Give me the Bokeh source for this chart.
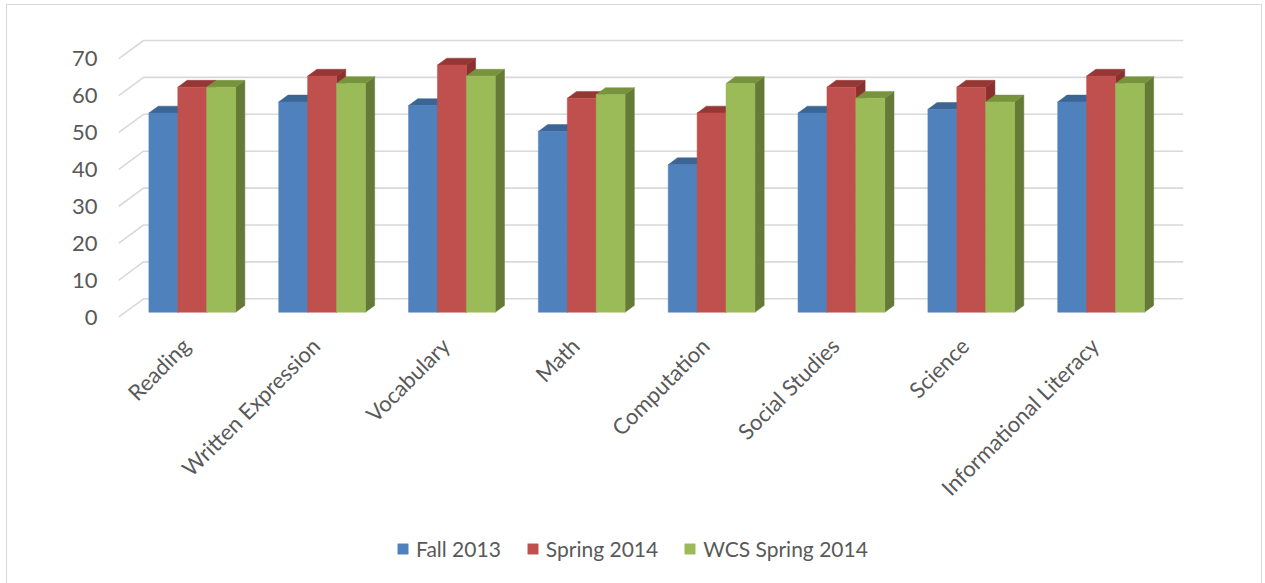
import math
from bokeh.plotting import figure
from bokeh.models import FixedTicker, Legend, LegendItem
from bokeh.core.properties import value
from bokeh.embed import file_html
from bokeh.resources import INLINE

# ---- data ----
categories = ["Reading", "Written Expression", "Vocabulary", "Math", "Computation",
              "Social Studies", "Science", "Informational Literacy"]
fall_2013 = [54, 57, 56, 49, 40, 54, 55, 57]
spring_2014 = [61, 64, 67, 58, 54, 61, 61, 64]
wcs_spring_2014 = [61, 62, 64, 59, 62, 58, 57, 62]
series_names = ["Fall 2013", "Spring 2014", "WCS Spring 2014"]
y_ticks = [0, 10, 20, 30, 40, 50, 60, 70]

# ---- styles / 3D geometry ----
front_colors = ["#4F81BD", "#C0504D", "#9BBB59"]
top_colors = ["#3B6594", "#943735", "#77933C"]
side_colors = ["#35577F", "#8A302E", "#667A38"]
DX = 0.1926   # x shift for full depth (category units)
DY = 4.99     # y shift for full depth (value units)
D_F = 0.27    # bar front depth
D_B = 0.64    # bar back depth
BW = 0.2226   # bar width
X0, X1 = -0.568, 7.635
Y0, Y1 = -70.0, 77.70
FONT = "Lato"
TXT = "#595959"

p = figure(width=1256, height=580, x_range=(X0, X1), y_range=(Y0, Y1),
           output_backend="svg", toolbar_location=None, x_axis_location=None,
           min_border_left=111, min_border_right=80, min_border_top=25,
           min_border_bottom=10)
p.background_fill_color = "white"
p.border_fill_color = "white"
p.outline_line_color = None
p.xgrid.visible = False
p.ygrid.visible = False
p.styles = {"margin-left": "6px", "margin-top": "4px", "border": "1px solid #d9d9d9"}

# 3D gridlines (front floor edge -> back wall -> across)
gx, gy = [], []
for v in y_ticks:
    gx.append([X0, X0 + DX, X1])
    gy.append([v, v + DY, v + DY])
p.multi_line(gx, gy, line_color="#d9d9d9", line_width=1.6)

ddx = (D_B - D_F) * DX
ddy = (D_B - D_F) * DY
legend_items = []
for k, vals in enumerate([fall_2013, spring_2014, wcs_spring_2014]):
    lefts, rights, tops, bottoms = [], [], [], []
    side_xs, side_ys, top_xs, top_ys = [], [], [], []
    for i, v in enumerate(vals):
        l = i + (k - 1.5) * BW
        r = l + BW
        b = D_F * DY
        t = v + D_F * DY
        lefts.append(l); rights.append(r); bottoms.append(b); tops.append(t)
        side_xs.append([r, r + ddx, r + ddx, r])
        side_ys.append([b, b + ddy, t + ddy, t])
        top_xs.append([l, r, r + ddx, l + ddx])
        top_ys.append([t, t, t + ddy, t + ddy])
    p.patches(side_xs, side_ys, fill_color=side_colors[k], line_color=side_colors[k], line_width=0.5)
    p.patches(top_xs, top_ys, fill_color=top_colors[k], line_color=top_colors[k], line_width=0.5)
    r_front = p.quad(left=lefts, right=rights, bottom=bottoms, top=tops,
                     fill_color=front_colors[k], line_color=front_colors[k], line_width=0.5)
    legend_items.append(LegendItem(label=series_names[k], renderers=[r_front]))

# category labels (rotated, anchored under each group)
p.text(x=list(range(len(categories))), y=[0] * len(categories), text=categories,
       angle=math.pi / 4, text_align="right", text_baseline="top",
       x_offset=-16, y_offset=15, text_font=value(FONT), text_font_size="22px",
       text_color=TXT)

# y axis
p.yaxis.ticker = FixedTicker(ticks=y_ticks)
p.yaxis.axis_line_color = None
p.yaxis.major_tick_line_color = None
p.yaxis.minor_tick_line_color = None
p.yaxis.major_tick_out = 0
p.yaxis.major_tick_in = 0
p.yaxis.major_label_standoff = 21
p.yaxis.major_label_text_font = FONT
p.yaxis.major_label_text_font_size = "22px"
p.yaxis.major_label_text_color = TXT

legend = Legend(items=legend_items, orientation="horizontal", location=(278, 14),
                padding=0, margin=0, spacing=25, label_standoff=7,
                glyph_width=13, glyph_height=13,
                label_text_font=FONT, label_text_font_size="21px", label_text_color=TXT,
                border_line_color=None, background_fill_alpha=0)
p.add_layout(legend, "center")

open("out.html", "w").write(file_html(p, INLINE))
